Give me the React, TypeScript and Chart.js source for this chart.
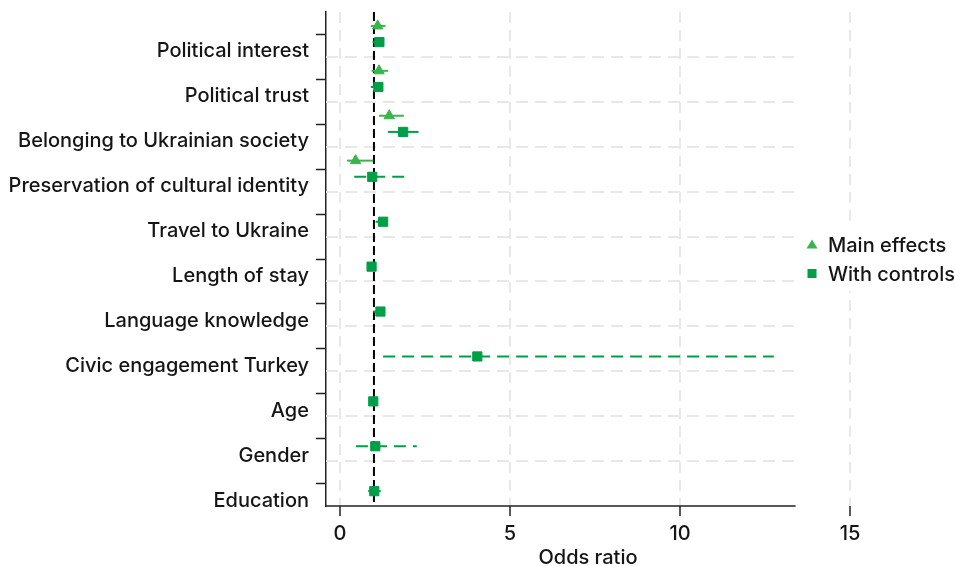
import React, { useEffect, useRef } from 'react';
import { Chart, registerables } from 'chart.js';

Chart.register(...registerables);

const variables = [
  'Political interest',
  'Political trust',
  'Belonging to Ukrainian society',
  'Preservation of cultural identity',
  'Travel to Ukraine',
  'Length of stay',
  'Language knowledge',
  'Civic engagement Turkey',
  'Age',
  'Gender',
  'Education',
];

const mainOR = [1.11, 1.15, 1.45, 0.46, null, null, null, null, null, null, null];
const mainLow = [0.91, 0.93, 1.15, 0.21, null, null, null, null, null, null, null];
const mainHigh = [1.34, 1.42, 1.88, 0.98, null, null, null, null, null, null, null];

const ctrlOR = [1.16, 1.13, 1.86, 0.95, 1.27, 0.93, 1.19, 4.04, 0.98, 1.04, 1.01];
const ctrlLow = [0.96, 0.91, 1.41, 0.42, 1.05, 0.9, 0.98, 1.27, 0.93, 0.47, 0.83];
const ctrlHigh = [1.28, 1.25, 2.31, 2.09, 1.38, 0.96, 1.3, 12.76, 1.03, 2.26, 1.2];
const ctrlDashed = [false, false, false, true, false, false, false, true, false, true, false];

const xTicks = [0, 5, 10, 15];
const legendLabels = ['Main effects', 'With controls'];
const xTitle = 'Odds ratio';
const refValue = 1;

const FONT = 'Inter';
const WEIGHT = 500;
const MAIN_COLOR = '#3cb44b';
const CTRL_COLOR = '#009e49';
const TEXT_COLOR = '#151515';
const AXIS_COLOR = '#222222';
const GRID_COLOR = '#e8e8e8';
const TRI_OFF = -0.19;
const SQ_OFF = 0.17;
const PLOT_X_END = 13.4;

export default function App() {
  const ref = useRef<HTMLCanvasElement>(null);

  useEffect(() => {
    const canvas = ref.current!;

    const datasets: any[] = [];
    datasets.push({
      label: legendLabels[0],
      data: mainOR.map((v, i) => (v == null ? null : { x: v, y: i + TRI_OFF })).filter(Boolean),
      pointStyle: 'triangle',
      pointRadius: 6,
      backgroundColor: MAIN_COLOR,
      borderColor: MAIN_COLOR,
      borderWidth: 1,
      order: 0,
    });
    datasets.push({
      label: legendLabels[1],
      data: ctrlOR.map((v, i) => ({ x: v, y: i + SQ_OFF })),
      pointStyle: 'rect',
      pointRadius: 6.5,
      backgroundColor: CTRL_COLOR,
      borderColor: CTRL_COLOR,
      borderWidth: 1,
      order: 0,
    });
    mainOR.forEach((v, i) => {
      if (v == null) return;
      datasets.push({
        label: 'ci-main-' + i,
        data: [
          { x: mainLow[i], y: i + TRI_OFF },
          { x: mainHigh[i], y: i + TRI_OFF },
        ],
        showLine: true,
        pointRadius: 0,
        borderColor: MAIN_COLOR,
        borderWidth: 2,
        order: 1,
      });
    });
    ctrlOR.forEach((v, i) => {
      datasets.push({
        label: 'ci-ctrl-' + i,
        data: [
          { x: ctrlLow[i], y: i + SQ_OFF },
          { x: ctrlHigh[i], y: i + SQ_OFF },
        ],
        showLine: true,
        pointRadius: 0,
        borderColor: CTRL_COLOR,
        borderWidth: 2,
        borderDash: ctrlDashed[i] ? [12, 7] : [],
        order: 1,
      });
    });
    datasets.push({
      label: 'ref',
      data: [
        { x: refValue, y: -0.5 },
        { x: refValue, y: variables.length - 0.5 },
      ],
      showLine: true,
      pointRadius: 0,
      borderColor: '#000000',
      borderWidth: 2,
      borderDash: [9, 4],
      order: 2,
    });

    const customPlugin = {
      id: 'custom',
      beforeDatasetsDraw(chart: any) {
        const { ctx, chartArea, scales } = chart;
        const xs = scales.x;
        const ys = scales.y;
        const xEnd = xs.getPixelForValue(PLOT_X_END);
        ctx.save();
        ctx.strokeStyle = GRID_COLOR;
        ctx.lineWidth = 2;
        ctx.setLineDash([12, 7]);
        for (let i = 0; i < variables.length - 1; i++) {
          const y = Math.round(ys.getPixelForValue(i + 0.5));
          ctx.beginPath();
          ctx.moveTo(chartArea.left, y);
          ctx.lineTo(xEnd, y);
          ctx.stroke();
        }
        ctx.restore();
      },
      afterDraw(chart: any) {
        const { ctx, chartArea, scales } = chart;
        const xs = scales.x;
        const xEnd = xs.getPixelForValue(PLOT_X_END);
        ctx.save();
        ctx.strokeStyle = AXIS_COLOR;
        ctx.lineWidth = 1.5;
        ctx.beginPath();
        ctx.moveTo(chartArea.left - 0.75, chartArea.bottom);
        ctx.lineTo(xEnd, chartArea.bottom);
        ctx.stroke();

        // legend
        const cy = (chartArea.top + chartArea.bottom) / 2;
        const lx = chartArea.right - 38;
        const rows = [cy - 14.5, cy + 14.5];
        ctx.fillStyle = '#ffffff';
        ctx.fillRect(lx - 12, rows[0] - 18, 955 - (lx - 12), rows[1] - rows[0] + 36);
        ctx.fillStyle = MAIN_COLOR;
        ctx.beginPath();
        ctx.moveTo(lx, rows[0] - 5);
        ctx.lineTo(lx + 5.5, rows[0] + 4);
        ctx.lineTo(lx - 5.5, rows[0] + 4);
        ctx.closePath();
        ctx.fill();
        ctx.fillStyle = CTRL_COLOR;
        ctx.fillRect(lx - 4.5, rows[1] - 4.5, 9, 9);
        ctx.fillStyle = TEXT_COLOR;
        ctx.font = `${WEIGHT} 20px "${FONT}"`;
        ctx.textBaseline = 'middle';
        ctx.textAlign = 'left';
        ctx.fillText(legendLabels[0], lx + 16, rows[0] + 1);
        ctx.fillText(legendLabels[1], lx + 16, rows[1] + 1);
        ctx.restore();
      },
    };

    const chart = new Chart(canvas, {
      type: 'scatter',
      data: { datasets },
      options: {
        animation: false,
        responsive: true,
        maintainAspectRatio: false,
        layout: { padding: { left: 0, right: 105, top: 12, bottom: 0 } },
        plugins: {
          legend: { display: false },
          tooltip: { enabled: false },
        },
        scales: {
          x: {
            type: 'linear',
            min: -0.41,
            max: 15,
            afterBuildTicks: (scale: any) => {
              scale.ticks = xTicks.map((v) => ({ value: v }));
            },
            afterFit: (scale: any) => {
              scale.height = 60;
              scale.paddingLeft = 0;
              scale.paddingRight = 0;
            },
            ticks: {
              autoSkip: false,
              maxRotation: 0,
              padding: 6,
              color: TEXT_COLOR,
              font: { family: FONT, size: 20, weight: WEIGHT as any },
            },
            grid: {
              color: GRID_COLOR,
              lineWidth: 2,
              drawTicks: true,
              tickLength: 10,
              tickColor: AXIS_COLOR,
              tickWidth: 1.5,
            },
            border: { display: false, dash: [11, 7] },
            title: {
              display: true,
              text: xTitle,
              color: TEXT_COLOR,
              font: { family: FONT, size: 20, lineHeight: 0.8, weight: WEIGHT as any },
              padding: { top: 0, bottom: 0 },
            },
          },
          y: {
            type: 'linear',
            min: -0.5,
            max: variables.length - 0.5,
            reverse: true,
            afterBuildTicks: (scale: any) => {
              scale.ticks = variables.map((_, i) => ({ value: i }));
            },
            afterFit: (scale: any) => {
              scale.width = 326;
              scale.paddingTop = 0;
              scale.paddingBottom = 0;
            },
            ticks: {
              autoSkip: false,
              padding: 7,
              labelOffset: 17,
              color: TEXT_COLOR,
              font: { family: FONT, size: 20, weight: WEIGHT as any },
              callback: (v: any) => variables[v as number],
            },
            grid: {
              drawOnChartArea: false,
              drawTicks: true,
              tickLength: 10,
              tickColor: AXIS_COLOR,
              tickWidth: 1.5,
            },
            border: { display: true, color: AXIS_COLOR, width: 1.5 },
          },
        },
      },
      plugins: [customPlugin],
    });
    return () => chart.destroy();
  }, []);

  return (
    <div style={{ position: 'absolute', left: 0, top: 0, width: 955, height: 566 }}>
      <canvas ref={ref} />
    </div>
  );
}
